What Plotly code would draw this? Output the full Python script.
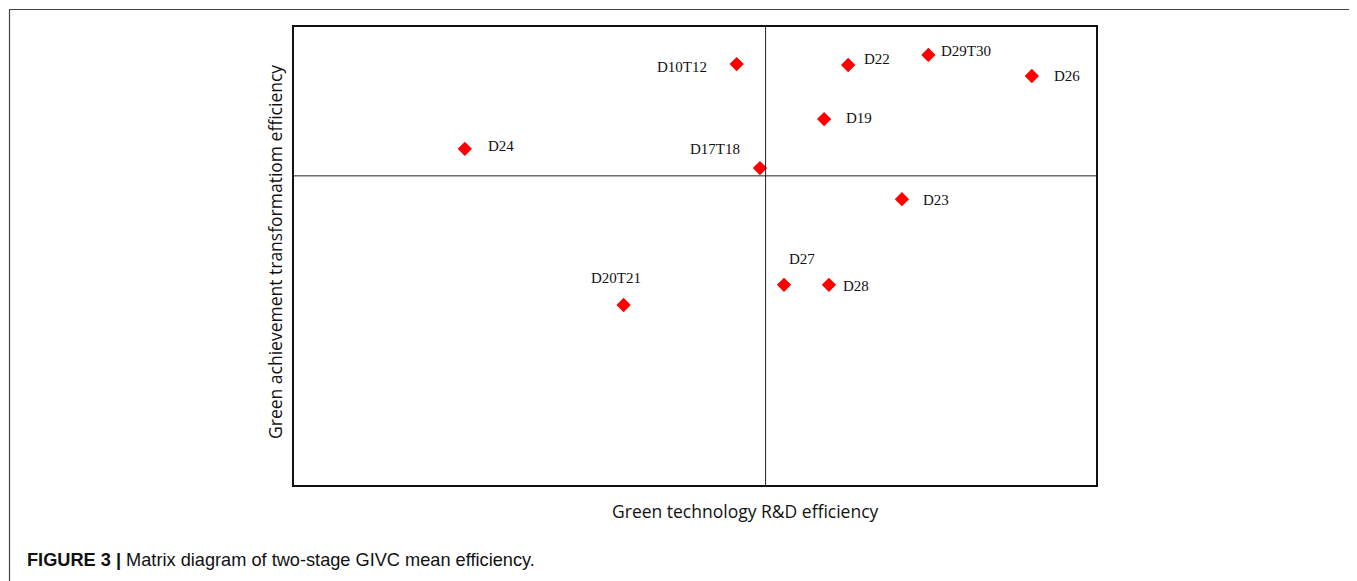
import plotly.graph_objects as go

# Data (relative efficiency positions)
names = ["D10T12", "D22", "D29T30", "D26", "D19", "D17T18", "D23", "D24", "D20T21", "D27", "D28"]
rd_eff = [0.552, 0.691, 0.791, 0.920, 0.661, 0.581, 0.758, 0.213, 0.411, 0.611, 0.667]
trans_eff = [0.919, 0.917, 0.939, 0.893, 0.799, 0.692, 0.624, 0.734, 0.393, 0.437, 0.437]
mean_rd = 0.588
mean_trans = 0.675

# label offsets in pixels (style)
label_dx = [-55, 29, 38, 35, 35, -45, 34, 36, -8, 18, 27]
label_dy = [-3, 6, 4, 0, 1, 19, -1, 3, 27, 26, -1]

W, H = 1357, 581
OFF = 8  # page body margin
L, R, T, B = 294 - OFF, 1096 - OFF, 27 - OFF, 485 - OFF


def px_to_paper(px, py):
    # px, py given in screen pixels
    px -= OFF
    py -= OFF
    return (px - L) / (R - L), (B - py) / (B - T)


fig = go.Figure()
fig.add_trace(go.Scatter(
    x=rd_eff, y=trans_eff, mode="markers",
    marker=dict(symbol="diamond", size=11, color="#ff0000", line=dict(width=0)),
    hoverinfo="text", text=names, showlegend=False))

for n, xv, yv, dx, dy in zip(names, rd_eff, trans_eff, label_dx, label_dy):
    fig.add_annotation(x=xv, y=yv, xref="x", yref="y", text=n, showarrow=False,
                       xshift=dx, yshift=dy, xanchor="center", yanchor="middle",
                       font=dict(family="Liberation Serif, Times New Roman, serif", size=15, color="#111"))

# quadrant lines at the means
fig.add_shape(type="line", xref="x", yref="paper", x0=mean_rd, x1=mean_rd, y0=0, y1=1,
              line=dict(color="#222", width=1))
fig.add_shape(type="line", xref="paper", yref="y", x0=0, x1=1, y0=mean_trans, y1=mean_trans,
              line=dict(color="#222", width=1))

# outer frame
fx0, fy0 = px_to_paper(9.5, 9.5)
fx1, _ = px_to_paper(1354, 9.5)
_, fyb = px_to_paper(0, 600)
fig.add_shape(type="path", xref="paper", yref="paper",
              path=f"M {fx0} {fyb} L {fx0} {fy0} L {fx1} {fy0} L {fx1} {fyb}",
              line=dict(color="#444", width=1.2))

# axis titles
ax, ay = px_to_paper(745, 511)
fig.add_annotation(x=ax, y=ay, xref="paper", yref="paper", text="Green technology R&D efficiency",
                   showarrow=False, xanchor="center", yanchor="middle",
                   font=dict(family="Open Sans, sans-serif", size=17.5, color="#111"))
tx, ty = px_to_paper(275, 252)
fig.add_annotation(x=tx, y=ty, xref="paper", yref="paper", text="Green achievement transformatiom efficiency",
                   showarrow=False, textangle=-90, xanchor="center", yanchor="middle",
                   font=dict(family="Open Sans, sans-serif", size=17.5, color="#111"))

# caption
cx, cy = px_to_paper(25, 560)
fig.add_annotation(x=cx, y=cy, xref="paper", yref="paper", xanchor="left", yanchor="middle",
                   text="<b>FIGURE 3 |</b> Matrix diagram of two-stage GIVC mean efficiency.",
                   showarrow=False,
                   font=dict(family="Liberation Sans Narrow, Liberation Sans, Arial, sans-serif", size=18.2, color="#111"))

fig.update_xaxes(range=[0, 1], showticklabels=False, ticks="", showgrid=False, zeroline=False,
                 showline=True, mirror=True, linecolor="#111", linewidth=1.5)
fig.update_yaxes(range=[0, 1], showticklabels=False, ticks="", showgrid=False, zeroline=False,
                 showline=True, mirror=True, linecolor="#111", linewidth=1.5)

fig.update_layout(width=W, height=H, margin=dict(l=L, r=W - R, t=T, b=H - B),
                  plot_bgcolor="white", paper_bgcolor="white")

fig.write_html("out.html")
